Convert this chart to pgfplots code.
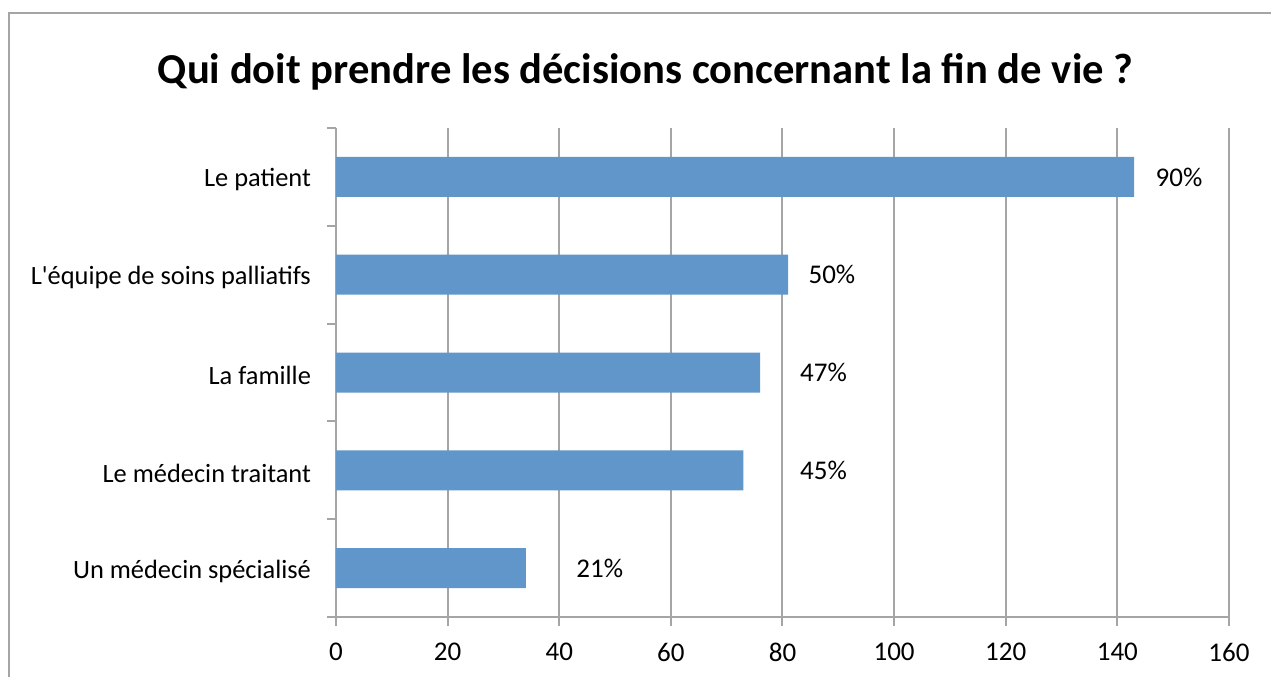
\documentclass[border=0pt]{standalone}
\usepackage{pgfplots}
\pgfplotsset{compat=1.18}
\usepackage{fontspec}
\setmainfont{Carlito}[Ligatures=TeXOff]
\definecolor{barblue}{RGB}{96,150,201}
\definecolor{gridgray}{RGB}{165,165,165}
\begin{document}
\begin{tikzpicture}
\useasboundingbox (0,0) rectangle (635.5pt,338.5pt);
\draw[gridgray, line width=1pt] (4.5pt,0) -- (4.5pt,332pt) -- (635.5pt,332pt);
\node[font=\fontsize{21.3}{26}\selectfont\bfseries, anchor=base, inner sep=0pt] at (322.75pt,297pt) {Qui doit prendre les décisions concernant la fin de vie ?};
\begin{axis}[
 at={(168pt,30pt)}, anchor=south west, scale only axis, width=446.5pt, height=244.5pt,
 xmin=0, xmax=160, ymin=-0.5, ymax=4.5,
 xtick={0,20,...,160},
 ytick={-0.5,0.5,...,4.5}, yticklabels={},
 extra y ticks={0,1,2,3,4},
 extra y tick labels={Un médecin spécialisé, Le médecin traitant, La famille, L'équipe de soins palliatifs, Le patient},
 extra y tick style={major tick length=0pt, yticklabel style={xshift=-9pt, yshift=-1.5pt, font=\fontsize{13.2}{16}\selectfont}},
 axis lines=left, axis line style={-, gridgray, line width=1pt},
 tick align=outside, major tick length=4.5pt, tick style={gridgray, line width=1pt},
 xmajorgrids, grid style={gridgray, line width=1pt},
 tick label style={font=\fontsize{13.5}{16}\selectfont},
 xticklabel style={yshift=-5pt},
 /pgf/number format/assume math mode=true,
]
\addplot[xbar, bar width=20pt, fill=barblue, draw=none] table {
x y
34 0
73 1
76 2
81 3
143 4
};
% value labels, placed where the reference shows them (x = left edge of label)
\addplot[draw=none, mark=none, forget plot, point meta=explicit,
 nodes near coords={\pgfmathprintnumber{\pgfplotspointmeta}\%},
 nodes near coords style={anchor=west, inner sep=0pt, font=\fontsize{13.5}{16}\selectfont, text=black}]
 table[meta=p] {
x y p
43.0 0 21
83.1 1 45
83.1 2 47
84.6 3 50
146.8 4 90
};
\end{axis}
\end{tikzpicture}
\end{document}
